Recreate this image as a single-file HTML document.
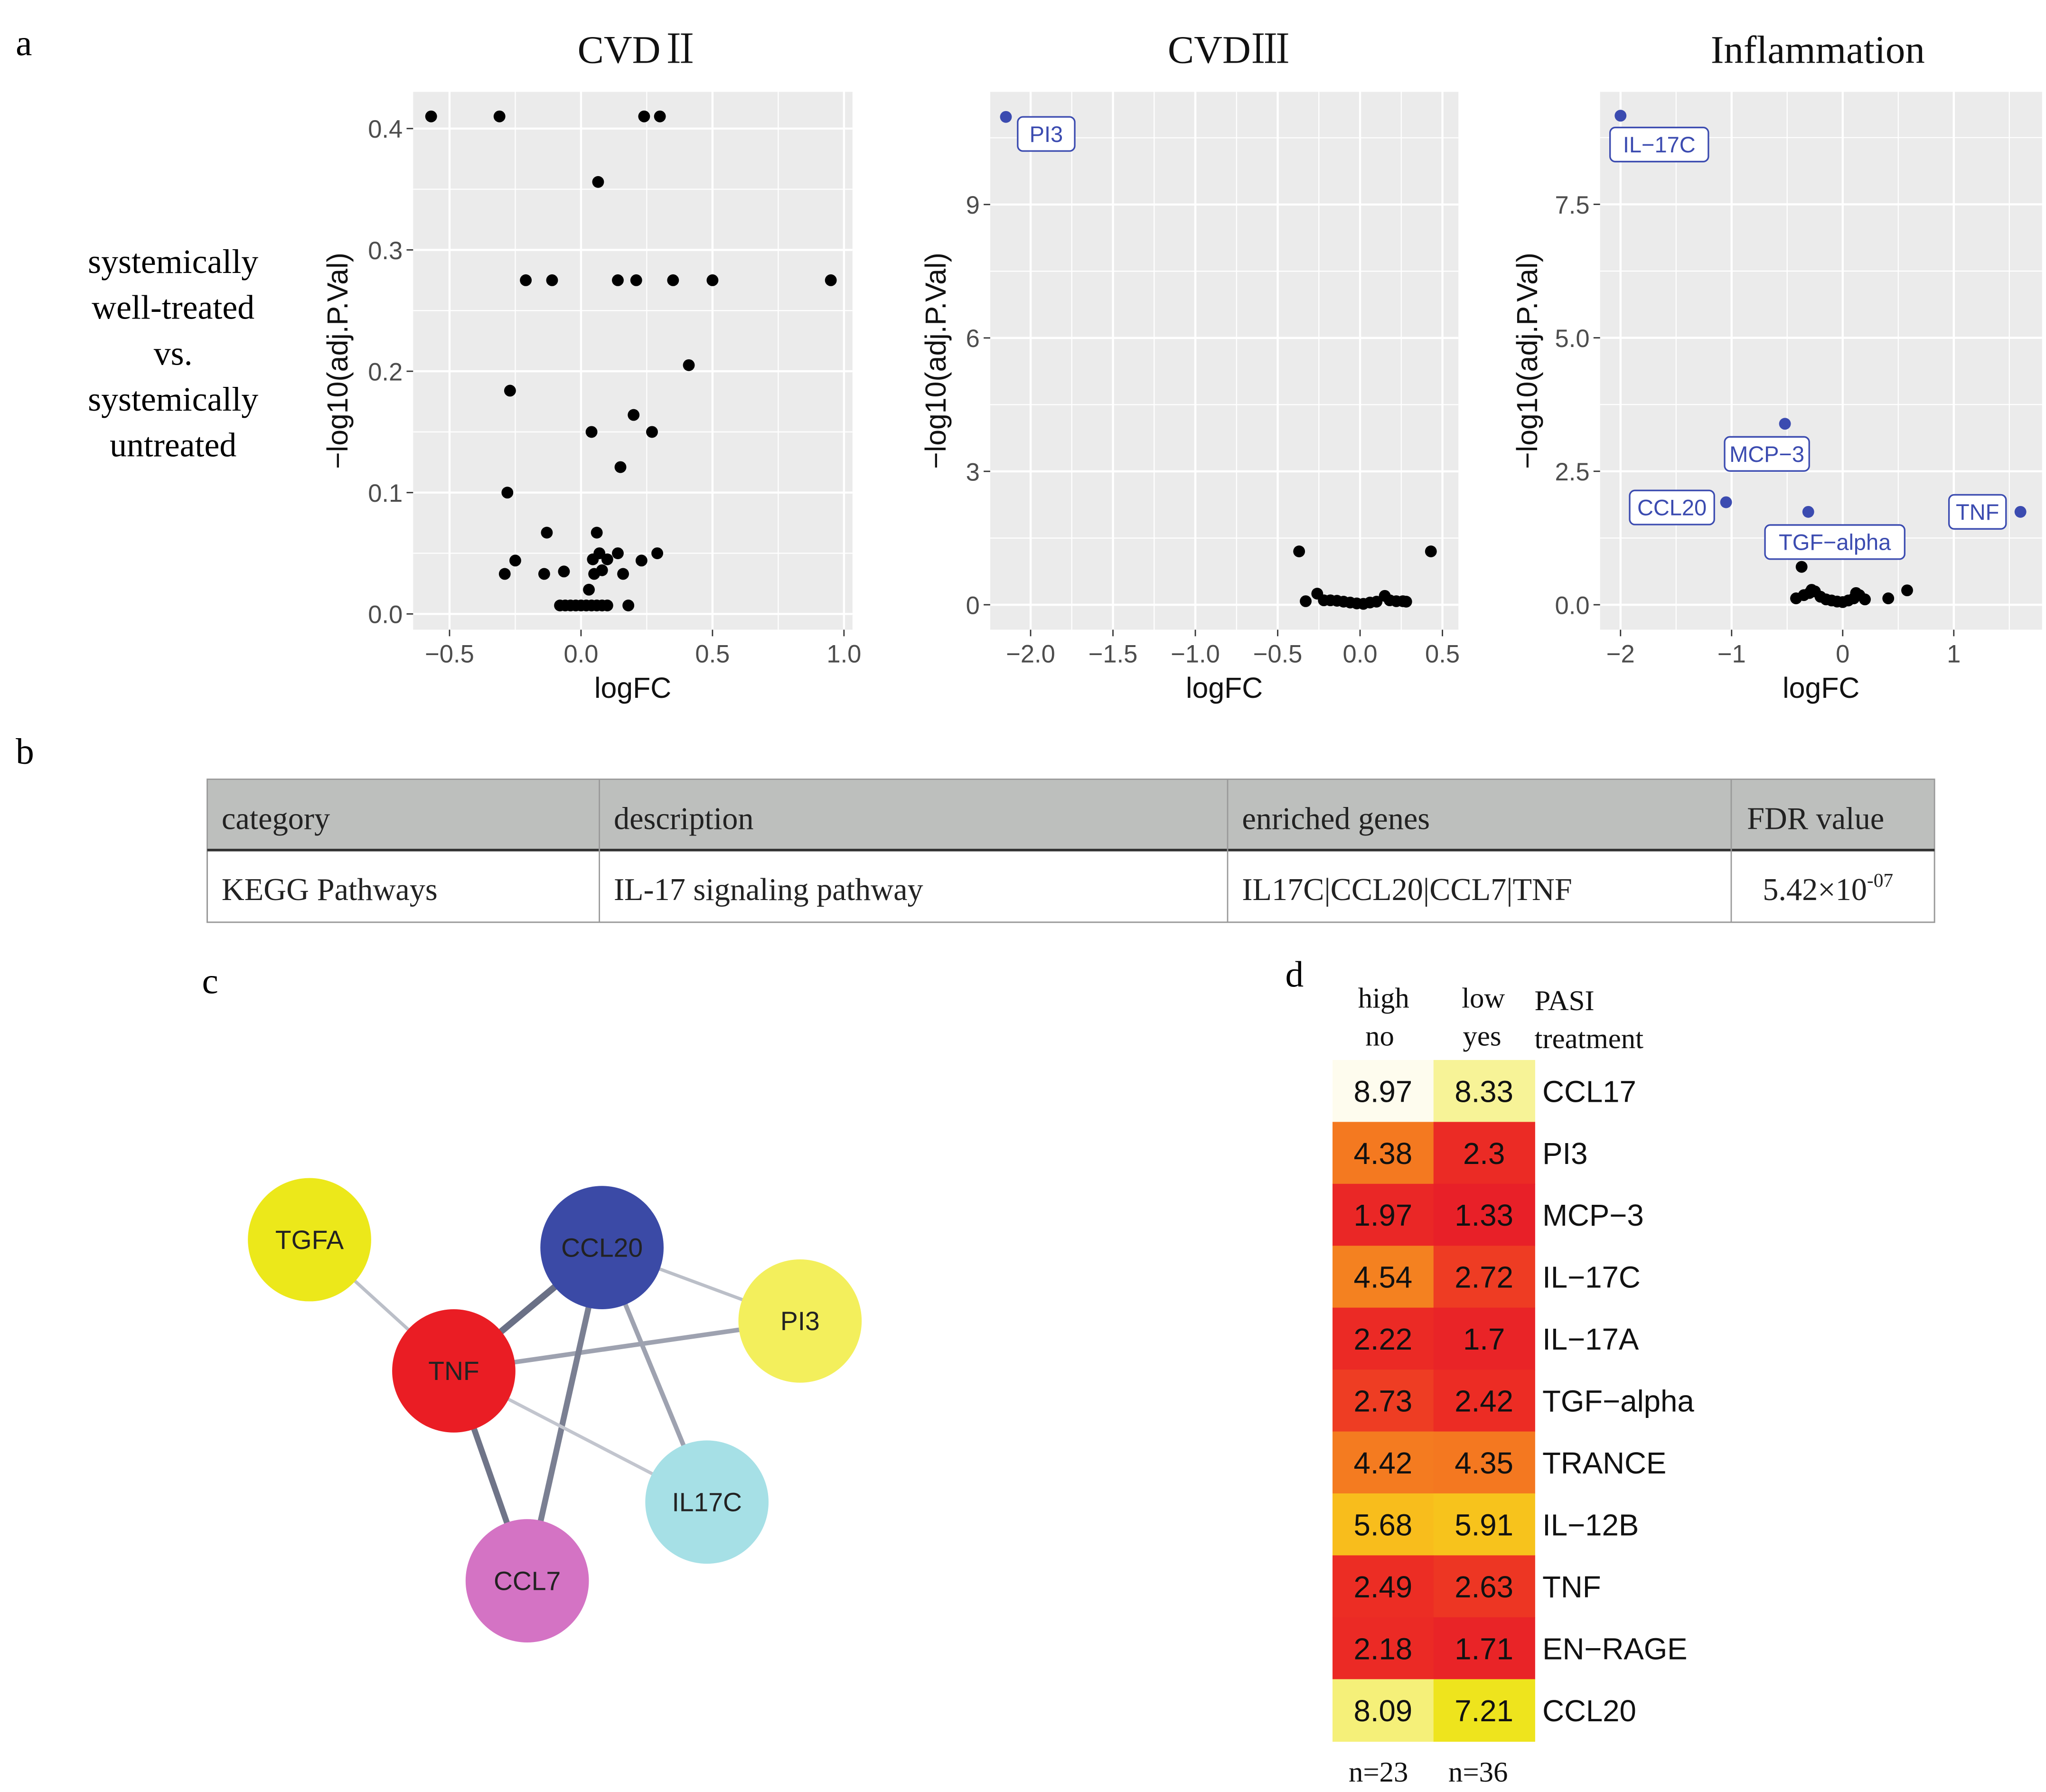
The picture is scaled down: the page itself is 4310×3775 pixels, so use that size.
<!DOCTYPE html>
<html><head><meta charset="utf-8"><style>
html,body{margin:0;padding:0;background:#fff;}
svg{display:block;}
.ser{font-family:"Liberation Serif","Noto Serif CJK SC",serif;}
.sans{font-family:"Liberation Sans",sans-serif;}
</style></head><body>
<svg id="fig" width="4310" height="3775" viewBox="0 0 1560 1366" preserveAspectRatio="none" xmlns="http://www.w3.org/2000/svg">
<text class="ser" x="12" y="42" font-size="28">a</text>
<text class="ser" x="12" y="582" font-size="28">b</text>
<text class="ser" x="154" y="757" font-size="28">c</text>
<text class="ser" x="980" y="752" font-size="28">d</text>
<g class="ser" font-size="26" text-anchor="middle">
<text x="132" y="208">systemically</text>
<text x="132" y="243">well-treated</text>
<text x="132" y="278">vs.</text>
<text x="132" y="313">systemically</text>
<text x="132" y="348">untreated</text>
</g>
<g id="plots"></g>
<g id="table">
<rect x="158" y="594" width="1317" height="54" fill="#bdbfbd"/>
<rect x="158" y="648" width="1317" height="55" fill="#fff" stroke="#999" stroke-width="1"/>
<rect x="158" y="594" width="1317" height="109" fill="none" stroke="#999" stroke-width="1"/>
<line x1="158" y1="648" x2="1475" y2="648" stroke="#333" stroke-width="2"/>
<line x1="457" y1="594" x2="457" y2="703" stroke="#999"/>
<line x1="936" y1="594" x2="936" y2="703" stroke="#999"/>
<line x1="1320" y1="594" x2="1320" y2="703" stroke="#999"/>
<g class="ser" font-size="24" fill="#222">
<text x="169" y="632">category</text><text x="468" y="632">description</text><text x="947" y="632">enriched genes</text><text x="1332" y="632">FDR value</text>
<text x="169" y="686">KEGG Pathways</text><text x="468" y="686">IL-17 signaling pathway</text><text x="947" y="686">IL17C|CCL20|CCL7|TNF</text>
<text x="1344" y="686">5.42×10<tspan dy="-10" font-size="15">-07</tspan></text>
</g></g>
<g id="net"></g>
<g id="heat"></g>
</svg>
<script>
const NS="http://www.w3.org/2000/svg";
function mk(p,t,a,txt){const e=document.createElementNS(NS,t);for(const k in a)e.setAttribute(k,a[k]);if(txt!==undefined)e.textContent=txt;p.appendChild(e);return e;}
// ---- Panel data ----
const cvd2X=[-0.57,-0.31,0.24,0.30,0.065,-0.21,-0.11,0.14,0.21,0.35,0.50,0.95,0.41,-0.27,0.04,0.20,0.27,0.15,-0.28,-0.13,0.06,-0.25,-0.29,-0.14,-0.065,0.045,0.07,0.10,0.14,0.23,0.29,0.05,0.08,0.16,0.03,-0.08,-0.06,-0.04,-0.02,0,0.02,0.04,0.06,0.08,0.10,0.18];
const cvd2Y=[0.41,0.41,0.41,0.41,0.356,0.275,0.275,0.275,0.275,0.275,0.275,0.275,0.205,0.184,0.150,0.164,0.150,0.121,0.10,0.067,0.067,0.044,0.033,0.033,0.035,0.045,0.05,0.045,0.05,0.044,0.05,0.033,0.036,0.033,0.02,0.007,0.007,0.007,0.007,0.007,0.007,0.007,0.007,0.007,0.007,0.007];
const cvd3X=[-0.37,0.43,-0.33,-0.26,-0.22,-0.18,-0.14,-0.1,-0.06,-0.02,0.02,0.06,0.1,0.15,0.18,0.22,0.26,0.28];
const cvd3Y=[1.2,1.2,0.08,0.25,0.1,0.1,0.09,0.07,0.05,0.03,0.02,0.05,0.07,0.2,0.1,0.08,0.08,0.07];
const cvd3LabX=[-2.15], cvd3LabY=[10.97], cvd3Lab=["PI3"];
const inflX=[-0.37,-0.42,-0.35,-0.3,-0.25,-0.2,-0.15,-0.1,-0.05,0,0.05,0.1,0.15,0.2,0.41,0.58,-0.28,0.12];
const inflY=[0.71,0.12,0.18,0.22,0.25,0.15,0.1,0.08,0.06,0.05,0.08,0.12,0.18,0.1,0.12,0.27,0.28,0.22];
const inflLabX=[-2.0,-0.52,-1.05,-0.31,1.6], inflLabY=[9.16,3.39,1.92,1.74,1.74], inflLab=["IL-17C","MCP-3","CCL20","TGF-alpha","TNF"];
const cvd2Ticks=[-0.5,0,0.5,1.0], cvd2TickLab=["-0.5","0.0","0.5","1.0"], cvd2YTicks=[0,0.1,0.2,0.3,0.4], cvd2YLab=["0.0","0.1","0.2","0.3","0.4"];
const cvd3Ticks=[-2,-1.5,-1,-0.5,0,0.5], cvd3TickLab=["-2.0","-1.5","-1.0","-0.5","0.0","0.5"], cvd3YTicks=[0,3,6,9], cvd3YLab=["0","3","6","9"];
const inflTicks=[-2,-1,0,1], inflTickLab=["-2","-1","0","1"], inflYTicks=[0,2.5,5,7.5], inflYLab=["0.0","2.5","5.0","7.5"];

const plots=document.getElementById('plots');
function panel(o){
  const g=mk(plots,'g',{});
  
  
  const L=o.l,R=o.r,T=70,B=480;
  const sx=v=>o.x0+v*o.kx, sy=v=>o.y0-v*o.ky;
  const bg=mk(g,'rect',{x:L,y:T,width:R-L,height:B-T,fill:'#ebebeb'});
  
  const xs=o.xt, ys=o.yt;
  const dx=xs[1]-xs[0], dy=ys[1]-ys[0];
  for(let v=xs[0]-dx/2;v<=xs[xs.length-1]+dx;v+=dx/2){const p=sx(v);if(p<L||p>R)continue;const maj=xs.some(t=>Math.abs(t-v)<1e-6);mk(g,'line',{x1:p,x2:p,y1:T,y2:B,stroke:'#fff','stroke-width':maj?1.6:0.8});}
  for(let v=ys[0]-dy/2;v<=ys[ys.length-1]+dy;v+=dy/2){const p=sy(v);if(p<T||p>B)continue;const maj=ys.some(t=>Math.abs(t-v)<1e-6);mk(g,'line',{x1:L,x2:R,y1:p,y2:p,stroke:'#fff','stroke-width':maj?1.6:0.8});}
  xs.forEach((v,i)=>{const p=sx(v);mk(g,'line',{x1:p,x2:p,y1:B,y2:B+5,stroke:'#333','stroke-width':1});
    const t=mk(g,'text',{x:p,y:B+25,'font-size':19,fill:'#4d4d4d','text-anchor':'middle',class:'sans'},o.xl[i].replace('-','\u2212'));
    });
  ys.forEach((v,i)=>{const p=sy(v);mk(g,'line',{x1:L-5,x2:L,y1:p,y2:p,stroke:'#333','stroke-width':1});
    const t=mk(g,'text',{x:L-8,y:p+7,'font-size':19,fill:'#4d4d4d','text-anchor':'end',class:'sans'},o.yl[i]);
    });
  const xt=mk(g,'text',{x:(L+R)/2,y:532,'font-size':22,'text-anchor':'middle',class:'sans',fill:'#111'},'logFC');
  
  const yt=mk(g,'text',{x:0,y:0,'font-size':22,'text-anchor':'middle',class:'sans',fill:'#111',transform:`translate(${o.ytx},275) rotate(-90)`},'\u2212log10(adj.P.Val)');
  
  const tt=mk(g,'text',{x:o.tx,y:48,'font-size':30,'text-anchor':'middle',class:'ser',fill:'#111'},o.title);
  
  o.px.forEach((v,i)=>{const c=mk(g,'circle',{cx:sx(v),cy:sy(o.py[i]),r:4.5,fill:'#000'});
    });
  (o.lx||[]).forEach((v,i)=>{const cx=sx(v),cy=sy(o.ly[i]);
    const c=mk(g,'circle',{cx:cx,cy:cy,r:4.5,fill:'#3b4bb0'});
    
    const off=o.loff[i];const w=o.lab[i].length*10.5+12;
    const bx=cx+off[0]-(off[2]?w:0), by=cy+off[1];
    const r=mk(g,'rect',{x:bx,y:by,width:w,height:26,rx:4,fill:'#fff',stroke:'#3b4bb0','stroke-width':1.2});
    
    const t=mk(g,'text',{x:bx+w/2,y:by+19,'font-size':17,fill:'#3b4bb0','text-anchor':'middle',class:'sans'},o.lab[i].replace('-','\u2212'));
    });
}
panel({name:'cvd2-volcano',title:'CVDⅡ',tx:487,l:315,r:650,x0:443,kx:200.5,y0:468,ky:925,xt:cvd2Ticks,xl:cvd2TickLab,yt:cvd2YTicks,yl:cvd2YLab,ytx:265,px:cvd2X,py:cvd2Y});
panel({name:'cvd3-volcano',title:'CVDⅢ',tx:937,l:755,r:1112,x0:1037,kx:125.6,y0:461,ky:33.9,xt:cvd3Ticks,xl:cvd3TickLab,yt:cvd3YTicks,yl:cvd3YLab,ytx:721,px:cvd3X,py:cvd3Y,lx:cvd3LabX,ly:cvd3LabY,lab:cvd3Lab,loff:[[9,0,0]]});
panel({name:'inflammation-volcano',title:'Inflammation',tx:1386,l:1220,r:1557,x0:1405,kx:84.7,y0:461,ky:40.7,xt:inflTicks,xl:inflTickLab,yt:inflYTicks,yl:inflYLab,ytx:1172,px:inflX,py:inflY,lx:inflLabX,ly:inflLabY,lab:inflLab,loff:[[-8,9,0],[-46,10,0],[-9,-9,1],[-33,10,0],[-11,-13,1]]});

// ---- Network ----
const nodeNames=["TGFA","CCL20","PI3","TNF","IL17C","CCL7"];
const nodeX=[236,459,610,346,539,402], nodeY=[945,951,1007,1045,1145,1205];
const nodeCol=["#ece81a","#3b4aa6","#f3ef5c","#ea1d24","#a6e0e6","#d473c4"];
const edgeA=[0,3,1,3,1,3,1,3], edgeB=[3,1,2,2,5,5,4,4], edgeW=[2.5,5,2.5,3.5,4.5,4.5,3.5,2.5], edgeC=["#bbbfc8","#6a7086","#bbbfc8","#9ea2b0","#7a7f92","#6f7488","#9ea2b0","#c2c5ce"];
const net=document.getElementById('net');
edgeA.forEach((a,i)=>{const b=edgeB[i];const l=mk(net,'line',{x1:nodeX[a],y1:nodeY[a],x2:nodeX[b],y2:nodeY[b],stroke:edgeC[i],'stroke-width':edgeW[i]});
  });
nodeNames.forEach((n,i)=>{const c=mk(net,'circle',{cx:nodeX[i],cy:nodeY[i],r:47,fill:nodeCol[i]});
  
  const t=mk(net,'text',{x:nodeX[i],y:nodeY[i]+7,'font-size':20,'text-anchor':'middle',class:'sans',fill:'#222'},n);
  });

// ---- Heatmap ----
const heatRows=["CCL17","PI3","MCP-3","IL-17C","IL-17A","TGF-alpha","TRANCE","IL-12B","TNF","EN-RAGE","CCL20"];
const heatHigh=[8.97,4.38,1.97,4.54,2.22,2.73,4.42,5.68,2.49,2.18,8.09];
const heatLow=[8.33,2.3,1.33,2.72,1.7,2.42,4.35,5.91,2.63,1.71,7.21];
const stops=[[1.3,[232,32,40]],[2.5,[236,45,36]],[3.0,[240,80,34]],[4.4,[244,122,32]],[5.7,[248,190,28]],[7.2,[238,228,28]],[8.1,[245,240,122]],[8.4,[248,244,160]],[9.0,[254,252,242]]];
function col(v){if(v<=stops[0][0])return `rgb(${stops[0][1]})`;for(let i=1;i<stops.length;i++){if(v<=stops[i][0]){const a=stops[i-1],b=stops[i],t=(v-a[0])/(b[0]-a[0]);return 'rgb('+a[1].map((c,k)=>Math.round(c+(b[1][k]-c)*t)).join(',')+')';}}return `rgb(${stops[stops.length-1][1]})`;}
const heat=document.getElementById('heat');
const hx0=1016,cw=77,hy0=808,rh=47.2;
heatRows.forEach((r,i)=>{const y=hy0+i*rh;
  [heatHigh[i],heatLow[i]].forEach((v,j)=>{const c=mk(heat,'rect',{x:hx0+j*cw,y:y,width:cw+0.5,height:rh+0.5,fill:col(v)});
    
    const t=mk(heat,'text',{x:hx0+j*cw+cw/2,y:y+32,'font-size':23,'text-anchor':'middle',class:'sans',fill:'#111'},String(v));
    });
  const t=mk(heat,'text',{x:1176,y:y+32,'font-size':23,class:'sans',fill:'#111'},r.replace('-','\u2212'));
  });
[["high",1055,768],["no",1052,797],["low",1131,768],["yes",1130,797],["n=23",1051,1358],["n=36",1127,1358]].forEach(a=>{
  const t=mk(heat,'text',{x:a[1],y:a[2],'font-size':22,'text-anchor':'middle',class:'ser',fill:'#111'},a[0]);
  });
[["PASI",1170,770],["treatment",1170,799]].forEach(a=>{
  const t=mk(heat,'text',{x:a[1],y:a[2],'font-size':22,class:'ser',fill:'#111'},a[0]);
  });
</script>
</body></html>
